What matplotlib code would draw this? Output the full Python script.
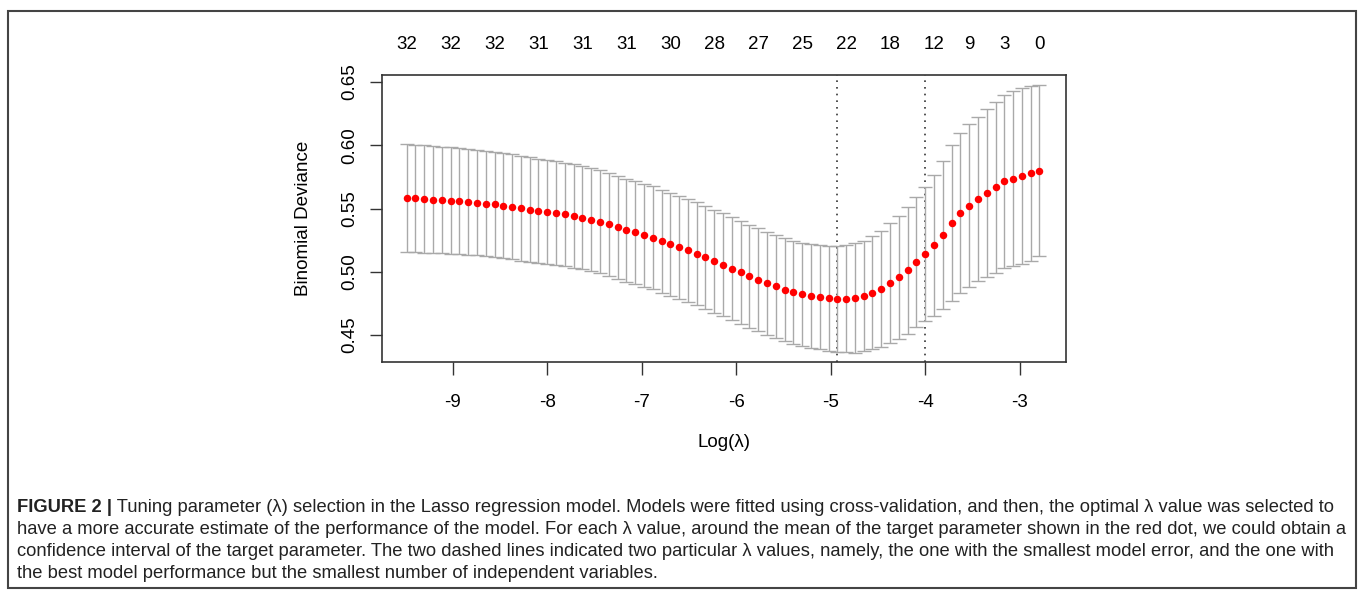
import matplotlib
matplotlib.use("Agg")
import matplotlib.pyplot as plt
from matplotlib.patches import Rectangle
from matplotlib.ticker import FormatStrFormatter

plt.rcParams['font.family'] = ['Liberation Sans', 'DejaVu Sans']
plt.rcParams['axes.unicode_minus'] = False

# log(lambda) grid of the cross-validation path
log_lambda = [-9.490, -9.397, -9.304, -9.211, -9.118, -9.025, -8.932, -8.839, -8.746, -8.653,
              -8.560, -8.467, -8.374, -8.281, -8.188, -8.095, -8.002, -7.909, -7.816, -7.723,
              -7.630, -7.537, -7.444, -7.351, -7.258, -7.165, -7.072, -6.979, -6.886, -6.793,
              -6.700, -6.607, -6.514, -6.421, -6.328, -6.235, -6.142, -6.049, -5.956, -5.863,
              -5.770, -5.677, -5.584, -5.491, -5.398, -5.305, -5.212, -5.119, -5.026, -4.933,
              -4.840, -4.747, -4.654, -4.561, -4.468, -4.375, -4.282, -4.189, -4.096, -4.003,
              -3.910, -3.817, -3.724, -3.631, -3.538, -3.445, -3.352, -3.259, -3.166, -3.073,
              -2.980, -2.887, -2.794]

# mean binomial deviance (red dots)
cv_mean = [0.5583, 0.5580, 0.5575, 0.5570, 0.5567, 0.5562, 0.5557, 0.5551, 0.5546, 0.5538,
           0.5532, 0.5523, 0.5514, 0.5502, 0.5492, 0.5484, 0.5475, 0.5464, 0.5453, 0.5439,
           0.5427, 0.5411, 0.5396, 0.5375, 0.5352, 0.5330, 0.5311, 0.5290, 0.5267, 0.5243,
           0.5219, 0.5195, 0.5169, 0.5143, 0.5114, 0.5085, 0.5056, 0.5025, 0.4996, 0.4966,
           0.4937, 0.4909, 0.4885, 0.4858, 0.4837, 0.4821, 0.4808, 0.4798, 0.4791, 0.4786,
           0.4788, 0.4793, 0.4808, 0.4835, 0.4864, 0.4909, 0.4956, 0.5011, 0.5074, 0.5140,
           0.5209, 0.5291, 0.5385, 0.5464, 0.5522, 0.5575, 0.5625, 0.5667, 0.5715, 0.5736,
           0.5754, 0.5778, 0.5799]

# half width of the error bars
cv_sd = [0.0424, 0.0424, 0.0424, 0.0424, 0.0422, 0.0422, 0.0419, 0.0417, 0.0416, 0.0416,
         0.0414, 0.0414, 0.0414, 0.0414, 0.0413, 0.0411, 0.0411, 0.0410, 0.0409, 0.0409,
         0.0408, 0.0408, 0.0408, 0.0408, 0.0408, 0.0407, 0.0407, 0.0407, 0.0407, 0.0407,
         0.0407, 0.0407, 0.0407, 0.0407, 0.0407, 0.0407, 0.0407, 0.0407, 0.0407, 0.0407,
         0.0407, 0.0407, 0.0407, 0.0407, 0.0407, 0.0407, 0.0408, 0.0410, 0.0414, 0.0419,
         0.0424, 0.0433, 0.0438, 0.0448, 0.0458, 0.0474, 0.0487, 0.0503, 0.0514, 0.0532,
         0.0556, 0.0587, 0.0615, 0.0630, 0.0646, 0.0651, 0.0664, 0.0675, 0.0682, 0.0693,
         0.0696, 0.0690, 0.0675]

# number of nonzero coefficients shown on top axis
top_idx = [0, 5, 10, 15, 20, 25, 30, 35, 40, 45, 50, 55, 60, 64, 68, 72]
top_labels = ['32', '32', '32', '31', '31', '31', '30', '28', '27', '25', '22', '18', '12', '9', '3', '0']

idx_min = 49   # lambda.min
idx_1se = 59   # lambda.1se

x_ticks = [-9, -8, -7, -6, -5, -4, -3]
y_ticks = [0.45, 0.50, 0.55, 0.60, 0.65]

caption_bold = "FIGURE 2 |"
caption_lines = [
    " Tuning parameter (\u03bb) selection in the Lasso regression model. Models were fitted using cross-validation, and then, the optimal \u03bb value was selected to",
    "have a more accurate estimate of the performance of the model. For each \u03bb value, around the mean of the target parameter shown in the red dot, we could obtain a",
    "confidence interval of the target parameter. The two dashed lines indicated two particular \u03bb values, namely, the one with the smallest model error, and the one with",
    "the best model performance but the smallest number of independent variables.",
]

W, H = 1358, 592
fig = plt.figure(figsize=(W / 100, H / 100), dpi=100)
ax = fig.add_axes([382 / W, 1 - 362 / H, 684 / W, 287 / H])

ax.errorbar(log_lambda, cv_mean, yerr=cv_sd, fmt='none', ecolor='darkgrey',
            elinewidth=1, capsize=4.8, capthick=1, zorder=2)
ax.plot(log_lambda, cv_mean, 'o', color='red', markersize=5.4, markeredgewidth=0, zorder=3)

for i in (idx_min, idx_1se):
    ax.axvline(log_lambda[i], color='#333333', lw=1.2, linestyle=(0, (1, 3)), zorder=1)

ax.set_xlim(-9.751, -2.513)
ax.set_ylim(0.4287, 0.6555)
ax.set_xticks(x_ticks)
ax.set_yticks(y_ticks)
ax.yaxis.set_major_formatter(FormatStrFormatter('%.2f'))
ax.tick_params(direction='out', length=9, width=1, color='#333333', labelsize=13.5)
ax.tick_params(axis='x', pad=14)
ax.tick_params(axis='y', pad=8)
for lab in ax.get_yticklabels():
    lab.set_rotation(90)
    lab.set_va('center')

for s in ax.spines.values():
    s.set_color('#333333')
    s.set_linewidth(1.2)

top = ax.secondary_xaxis('top')
top.set_xticks([log_lambda[i] for i in top_idx], top_labels)
top.tick_params(length=0, labelsize=13.5, pad=16)
top.spines['top'].set_visible(False)

ax.set_xlabel('Log(\u03bb)', fontsize=13.5)
ax.xaxis.set_label_coords(0.5, -0.25)
ax.set_ylabel('Binomial Deviance', fontsize=13.5)
ax.yaxis.set_label_coords(-0.102, 0.5)

# outer frame
fig.add_artist(Rectangle((8 / W, 1 - 588 / H), 1348 / W, 577 / H, transform=fig.transFigure,
                         fill=False, edgecolor='#444444', lw=1.5))

# caption
cap_size = 13.2
line_y = [508, 530, 552, 574]
t = fig.text(17 / W, 1 - line_y[0] / H, caption_bold, fontsize=cap_size, fontweight='bold',
             va='center', color='#222222')
fig.canvas.draw()
bb = t.get_window_extent(renderer=fig.canvas.get_renderer())
fig.text(bb.x1 / W, 1 - line_y[0] / H, caption_lines[0], fontsize=cap_size, va='center', color='#222222')
for y, line in zip(line_y[1:], caption_lines[1:]):
    fig.text(17 / W, 1 - y / H, line, fontsize=cap_size, va='center', color='#222222')

fig.savefig('out.png', dpi=100)
